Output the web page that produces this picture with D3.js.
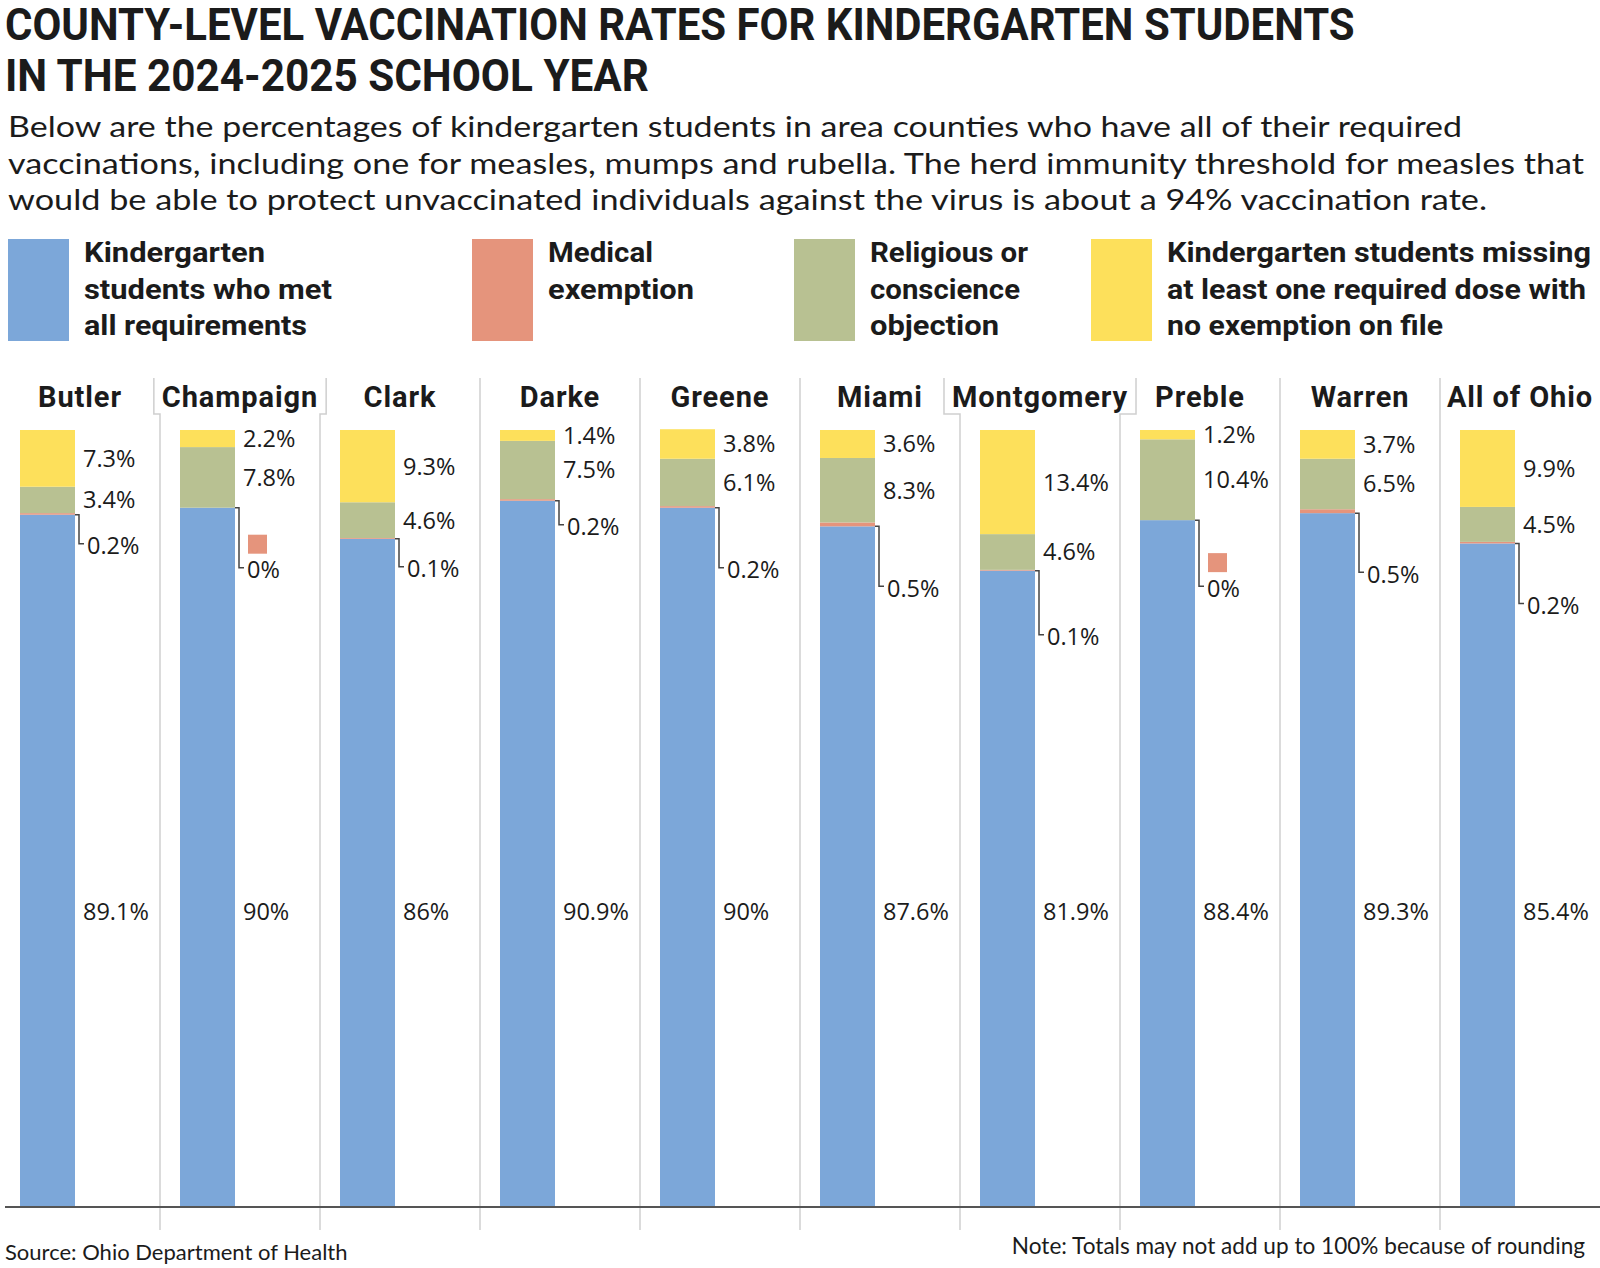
<html>
<script src='https://d3js.org/d3.v7.min.js'></script>
<style>
body {margin:0; background:#fff;}
text {fill:#1b1b1b;}
.hd {font-family: Roboto, 'DejaVu Sans', sans-serif; font-weight:700;}
.tx {font-family: Lato, 'Open Sans', sans-serif;}
.val {font-family: 'Open Sans', Lato, sans-serif; font-size:23.5px;}
</style>
<body onload='init()'>
<svg width=1600 height=1268></svg>
<script>
// data
var counties = ["Butler","Champaign","Clark","Darke","Greene","Miami","Montgomery","Preble","Warren","All of Ohio"];
var metAll    = [89.1, 90, 86, 90.9, 90, 87.6, 81.9, 88.4, 89.3, 85.4];
var medical   = [0.2, 0, 0.1, 0.2, 0.2, 0.5, 0.1, 0, 0.5, 0.2];
var religious = [3.4, 7.8, 4.6, 7.5, 6.1, 8.3, 4.6, 10.4, 6.5, 4.5];
var missing   = [7.3, 2.2, 9.3, 1.4, 3.8, 3.6, 13.4, 1.2, 3.7, 9.9];

var titleLines = ["COUNTY-LEVEL VACCINATION RATES FOR KINDERGARTEN STUDENTS", "IN THE 2024-2025 SCHOOL YEAR"];
var subLines = ["Below are the percentages of kindergarten students in area counties who have all of their required",
  "vaccinations, including one for measles, mumps and rubella. The herd immunity threshold for measles that",
  "would be able to protect unvaccinated individuals against the virus is about a 94% vaccination rate."];
var legendLabels = [
  ["Kindergarten", "students who met", "all requirements"],
  ["Medical", "exemption"],
  ["Religious or", "conscience", "objection"],
  ["Kindergarten students missing", "at least one required dose with", "no exemption on file"]];

// layout only
var colors = {met:"#7ca7d9", medical:"#e5947c", religious:"#b8c192", missing:"#fde05b"};
var keys = ["met","medical","religious","missing"];
var titleW = [1350, 644];
var subW = [1454, 1576, 1479];
var legX = [8, 472, 794, 1091];
var legW = [[181, 248, 223], [105, 146], [158, 150, 129], [424, 419, 276]];
var medDrop = [31, 62, 30, 26, 62, 62, 66, 68, 61, 62];

function init() {
  var svg = d3.select("svg");

  // title: squeeze horizontally to the condensed width of the original
  svg.selectAll("text.title").data(titleLines).enter().append("text")
    .attr("class","hd").attr("font-size",45).text(d=>d)
    .each(function(d,i){
      var w = this.getComputedTextLength();
      d3.select(this).attr("transform","translate(5,"+(40+i*51)+") scale("+(titleW[i]/w)+",1)");
    });

  svg.selectAll("text.sub").data(subLines).enter().append("text")
    .attr("class","tx").attr("x",8).attr("y",(d,i)=>137+i*36.5)
    .attr("font-size",29).attr("textLength",(d,i)=>subW[i]).attr("lengthAdjust","spacingAndGlyphs")
    .text(d=>d);

  // legend
  var lg = svg.selectAll("g.leg").data(keys).enter().append("g")
    .attr("transform",(d,i)=>"translate("+legX[i]+",239)");
  lg.append("rect").attr("width",61).attr("height",102).attr("fill",d=>colors[d]);
  lg.each(function(d,i){
    d3.select(this).selectAll("text").data(legendLabels[i]).enter().append("text")
      .attr("class","hd").attr("x",76).attr("y",(t,j)=>23+j*36.7)
      .attr("font-size",28).attr("textLength",(t,j)=>legW[i][j]).attr("lengthAdjust","spacingAndGlyphs")
      .text(t=>t);
  });

  var rows = counties.map((c,i)=>({county:c, met:metAll[i], medical:medical[i], religious:religious[i], missing:missing[i]}));
  var series = d3.stack().keys(keys)(rows);

  var x = d3.scaleBand().domain(counties).range([0,1600]);
  var y = d3.scaleLinear().domain([0,100]).range([1207,430]);
  var barW = 55, barOff = 20;

  // column headers
  var heads = svg.selectAll("text.head").data(counties).enter().append("text")
    .attr("class","hd").attr("x",d=>x(d)+x.bandwidth()/2).attr("y",407)
    .attr("text-anchor","middle").attr("font-size",29).attr("letter-spacing",0.9).text(d=>d);
  var hw = [];
  heads.each(function(){ hw.push(this.getComputedTextLength()); });

  // dividers, jogging around wide headers
  var divs = [];
  for (var i=1;i<counties.length;i++) {
    var b = x(counties[i]);
    var lEdge = x(counties[i-1]) + x.bandwidth()/2 + hw[i-1]/2;
    var rEdge = x(counties[i]) + x.bandwidth()/2 - hw[i]/2;
    var hx = b;
    if (lEdge + 6 > b) hx = lEdge + 8;
    if (rEdge - 6 < b) hx = rEdge - 8;
    divs.push({b:b, hx:hx});
  }
  svg.selectAll("path.div").data(divs).enter().append("path")
    .attr("d",d=> d.hx===d.b ? "M"+d.b+",378V1230" : "M"+d.hx+",378V414H"+d.b+"V1230")
    .attr("fill","none").attr("stroke","#cfcfcf").attr("stroke-width",1.5);

  // bars
  svg.selectAll("g.layer").data(series).enter().append("g")
    .attr("fill",d=>colors[d.key])
    .selectAll("rect").data(d=>d).enter().append("rect")
    .attr("x",d=>x(d.data.county)+barOff).attr("width",barW)
    .attr("y",d=>y(d[1])).attr("height",d=>y(d[0])-y(d[1]));

  // baseline
  svg.append("line").attr("x1",5).attr("x2",1600).attr("y1",y(0)).attr("y2",y(0))
    .attr("stroke","#555").attr("stroke-width",2);

  var right = d=>x(d.data.county)+barOff+barW;

  // labels for missing and religious segments
  [series[3], series[2]].forEach(function(s){
    svg.selectAll(null).data(s).enter().append("text").attr("class","val")
      .attr("x",d=>right(d)+8).attr("y",d=>(y(d[0])+y(d[1]))/2).attr("dy","0.36em")
      .text(d=>d.data[s.key]+"%");
  });

  // met label sits at a fixed height
  svg.selectAll(null).data(series[0]).enter().append("text").attr("class","val")
    .attr("x",d=>right(d)+8).attr("y",y(38)).attr("dy","0.36em")
    .text(d=>d.data.met+"%");

  // medical labels with leader lines
  var med = series[1];
  svg.selectAll(null).data(med).enter().append("path")
    .attr("d",(d,i)=>{ var r=right(d), t=y(d[0]), ly=t+medDrop[i];
      return "M"+r+","+t+"H"+(r+4)+"V"+(ly-2)+"H"+(r+9); })
    .attr("fill","none").attr("stroke","#444").attr("stroke-width",1.5);
  svg.selectAll(null).data(med.filter(d=>d.data.medical===0)).enter().append("rect")
    .attr("x",d=>right(d)+13).attr("width",19).attr("height",19)
    .attr("y",d=>y(d[0])+medDrop[counties.indexOf(d.data.county)]-35)
    .attr("fill",colors.medical);
  svg.selectAll(null).data(med).enter().append("text").attr("class","val")
    .attr("x",d=>right(d)+12).attr("y",(d,i)=>y(d[0])+medDrop[i]).attr("dy","0.36em")
    .text(d=>d.data.medical+"%");

  svg.append("text").attr("class","tx").attr("x",5).attr("y",1260).attr("font-size",22)
    .text("Source: Ohio Department of Health");
  svg.append("text").attr("class","tx").attr("x",1585).attr("y",1254).attr("font-size",22.6)
    .attr("text-anchor","end").text("Note: Totals may not add up to 100% because of rounding");
}
</script>
</body>
</html>
